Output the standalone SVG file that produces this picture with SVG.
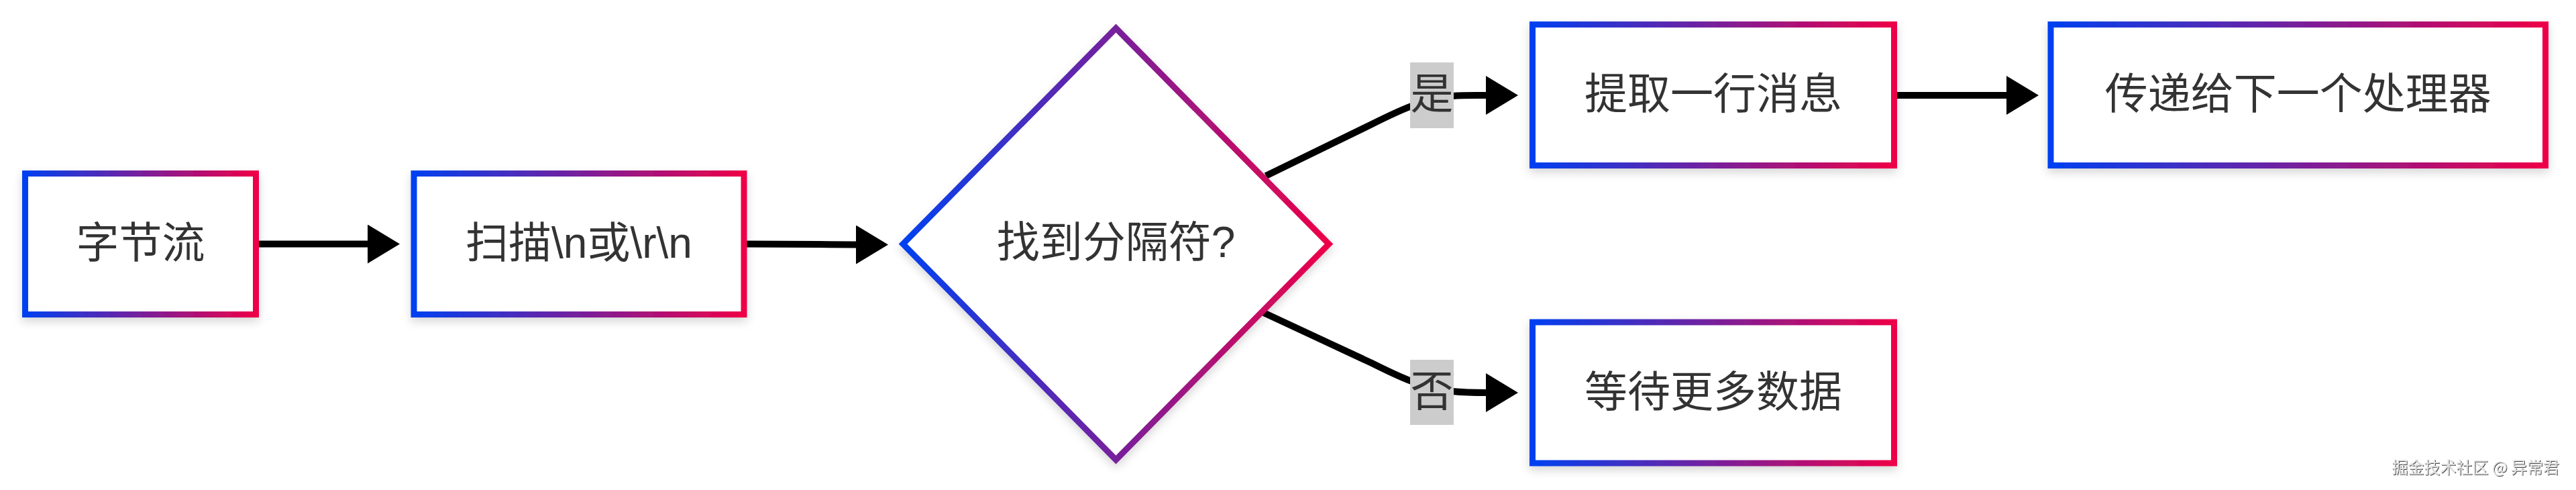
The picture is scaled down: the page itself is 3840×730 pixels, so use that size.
<svg xmlns="http://www.w3.org/2000/svg" width="3840" height="730" viewBox="0 0 3840 730">
  <style>
    .shape { fill: #ffffff; stroke: url(#grad); stroke-width: 9; filter: url(#shadow); }
    .label { font-family: "Liberation Sans", "Noto Sans CJK SC", sans-serif; font-size: 64px; fill: #333333; text-anchor: middle; dominant-baseline: central; }
    .edge { fill: none; stroke: #000000; stroke-width: 10; marker-end: url(#arrow); }
    .elbg { fill: #cccccc; }
    .wm { font-family: "Noto Sans CJK SC", sans-serif; font-size: 24px; fill: #e2e2e2; filter: url(#emboss); }
  </style>
  <defs>
    <linearGradient id="grad" x1="0" y1="0" x2="1" y2="0">
      <stop offset="0" stop-color="#0040f0"/>
      <stop offset="1" stop-color="#ee0048"/>
    </linearGradient>
    <filter id="shadow" x="-10%" y="-20%" width="120%" height="150%">
      <feDropShadow dx="0" dy="6" stdDeviation="7" flood-color="#000000" flood-opacity="0.16"/>
    </filter>
    <filter id="emboss" x="-5%" y="-30%" width="110%" height="160%">
      <feDropShadow dx="1" dy="1" stdDeviation="0.6" flood-color="#333333" flood-opacity="0.9"/>
    </filter>
    <marker id="arrow" markerUnits="userSpaceOnUse" markerWidth="48" markerHeight="58" refX="1" refY="29" orient="auto">
      <path d="M0,0 L48,29 L0,58 z" fill="#000000"/>
    </marker>
  </defs>

  <g id="connectors">
    <path class="edge" d="M386,363.5 L549,363.5"/>
    <path class="edge" d="M1113,363.5 C1200,363.5 1230,364.5 1277,364.5"/>
    <path class="edge" d="M1887,262 L2045,185 C2085,165 2120,148 2165,143 C2185,141.5 2200,142 2216,142"/>
    <path class="edge" d="M1884,466 L2045,541 C2085,561 2120,578 2165,583 C2185,585 2200,585 2216,585"/>
    <path class="edge" d="M2828,142 L2992,142"/>
    <g id="label-yes">
      <rect class="elbg" x="2102" y="93" width="65" height="98"/>
      <text class="label" x="2134.5" y="140">是</text>
    </g>
    <g id="label-no">
      <rect class="elbg" x="2102" y="536" width="65" height="97"/>
      <text class="label" x="2134.5" y="583">否</text>
    </g>
  </g>

  <g id="node-bytes">
    <rect class="shape" x="37.5" y="258.5" width="344" height="210"/>
    <text class="label" x="209.5" y="362">字节流</text>
  </g>

  <g id="node-scan">
    <rect class="shape" x="617" y="258.5" width="492" height="210"/>
    <text class="label" x="863" y="362">扫描\n或\r\n</text>
  </g>

  <g id="node-found">
    <polygon class="shape" points="1663.5,42 1981,363.5 1663.5,685 1346,363.5"/>
    <text class="label" x="1663.5" y="361">找到分隔符?</text>
  </g>

  <g id="node-extract">
    <rect class="shape" x="2284.5" y="36.5" width="539" height="210"/>
    <text class="label" x="2554" y="140">提取一行消息</text>
  </g>

  <g id="node-pass">
    <rect class="shape" x="3057" y="36.5" width="737.5" height="210"/>
    <text class="label" x="3425.75" y="140">传递给下一个处理器</text>
  </g>

  <g id="node-wait">
    <rect class="shape" x="2284.5" y="480" width="539" height="210"/>
    <text class="label" x="2554" y="584">等待更多数据</text>
  </g>

  <text class="wm" x="3815" y="694" text-anchor="end" dominant-baseline="central">掘金技术社区 @ 异常君</text>
</svg>
